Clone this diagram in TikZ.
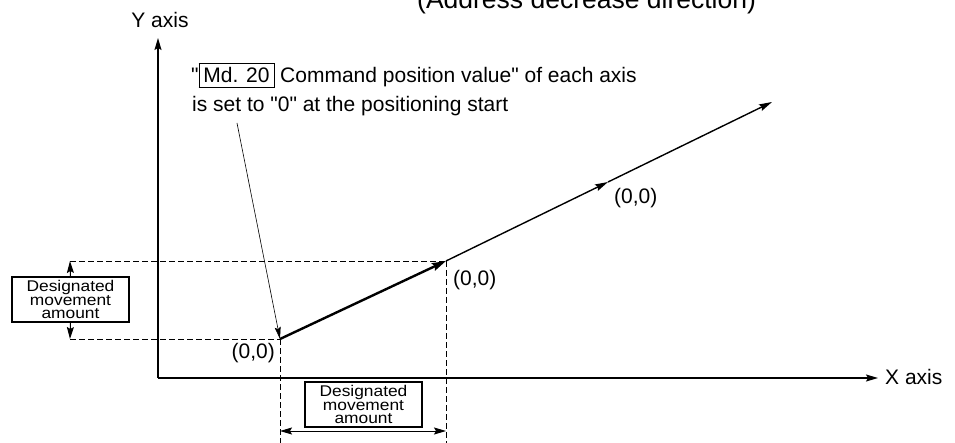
\documentclass[tikz,border=0pt]{standalone}
\usepackage{fontspec}
\setmainfont{Liberation Sans}[Ligatures=TeXOff]
\newfontfamily\widefont{Liberation Sans}[Ligatures=TeXOff, FakeStretch=1.12]
\usetikzlibrary{arrows.meta}
\begin{document}
\begin{tikzpicture}[x=1pt, y=-1pt,
    axis/.style={line width=1.3pt, -{Stealth[length=12pt, width=7pt, inset=2pt]}},
    guide/.style={line width=0.8pt, dash pattern=on 6pt off 3pt},
    dimbox/.style={draw, line width=1.3pt, minimum width=117pt, minimum height=45pt,
      inner sep=0pt, align=center, font=\widefont\fontsize{15.5}{13.5}\selectfont},
    dimtip/.style={line width=1pt, -{Stealth[length=12pt, width=7pt, inset=2pt]}},
    lbl/.style={font=\fontsize{21}{29}\selectfont, inner sep=0pt}]
  \useasboundingbox (0,0) rectangle (955,443);
  % origin, axis tips and points of the movement
  \coordinate (o) at (158,378);
  \coordinate (ytip) at (158,38);
  \coordinate (xtip) at (878,378);
  \coordinate (p0) at (280,339);
  \coordinate (p1) at (446,261);
  \coordinate (p2) at (608,182);
  \coordinate (p3) at (772,102);
  % axes
  \draw[axis] (o) -- (ytip);
  \draw[axis] (o) -- (xtip);
  \node[lbl] (ylbl) at (160,20) {Y axis};
  \node[lbl, anchor=west] (xlbl) at (885,377) {X axis};
  \node[font=\fontsize{26.5}{30}\selectfont, inner sep=0pt, anchor=base west]
    (dir) at (417,9) {(Address decrease direction)};
  % dashed guides to the axes
  \coordinate (dl1) at (70,261);
  \coordinate (dl0) at (70,339);
  \coordinate (db0) at (280,443);
  \coordinate (db1) at (446,443);
  \draw[guide] (dl1) -- (p1);
  \draw[guide] (dl0) -- (p0);
  \draw[guide] (p0) -- (db0);
  \draw[guide] (p1) -- (db1);
  % movement vectors
  \draw[line width=2.4pt, -{Stealth[length=14pt, width=8pt, inset=2pt]}] (p0) -- (p1);
  \draw[line width=1.4pt, -{Stealth[length=13pt, width=7pt, inset=2pt]}] (p1) -- (p2);
  \draw[line width=1.4pt, -{Stealth[length=13pt, width=7pt, inset=2pt]}] (p2) -- (p3);
  \node[lbl, anchor=east] (z0) at (275,353) {(0,0)};
  \node[lbl, anchor=west] (z1) at (453,280) {(0,0)};
  \node[lbl, anchor=west] (z2) at (614,198) {(0,0)};
  % designated movement amounts
  \node[dimbox] (diml) at (70.5,299.5) {Designated\\movement\\amount};
  \draw[dimtip] (diml.north) -- (dl1);
  \draw[dimtip] (diml.south) -- (dl0);
  \node[dimbox] (dimb) at (363.5,404.5) {Designated\\movement\\amount};
  \coordinate (a0) at (280,431);
  \coordinate (a1) at (446,431);
  \draw[line width=1pt, {Stealth[length=12pt, width=7pt, inset=2pt]}-{Stealth[length=12pt, width=7pt, inset=2pt]}] (a0) -- (a1);
  % note on the command position value
  \node[lbl, anchor=base west] (note1) at (191,83)
    {"{\fboxsep=4pt\fboxrule=0.8pt\fbox{Md. 20}} Command position value" of each axis};
  \node[lbl, anchor=base west] (note2) at (192,112)
    {is set to "0" at the positioning start};
  \coordinate (lead) at (237,123);
  \draw[line width=0.6pt, -{Stealth[length=12pt, width=6pt, inset=2pt]}] (lead) -- (p0);
\end{tikzpicture}
\end{document}
